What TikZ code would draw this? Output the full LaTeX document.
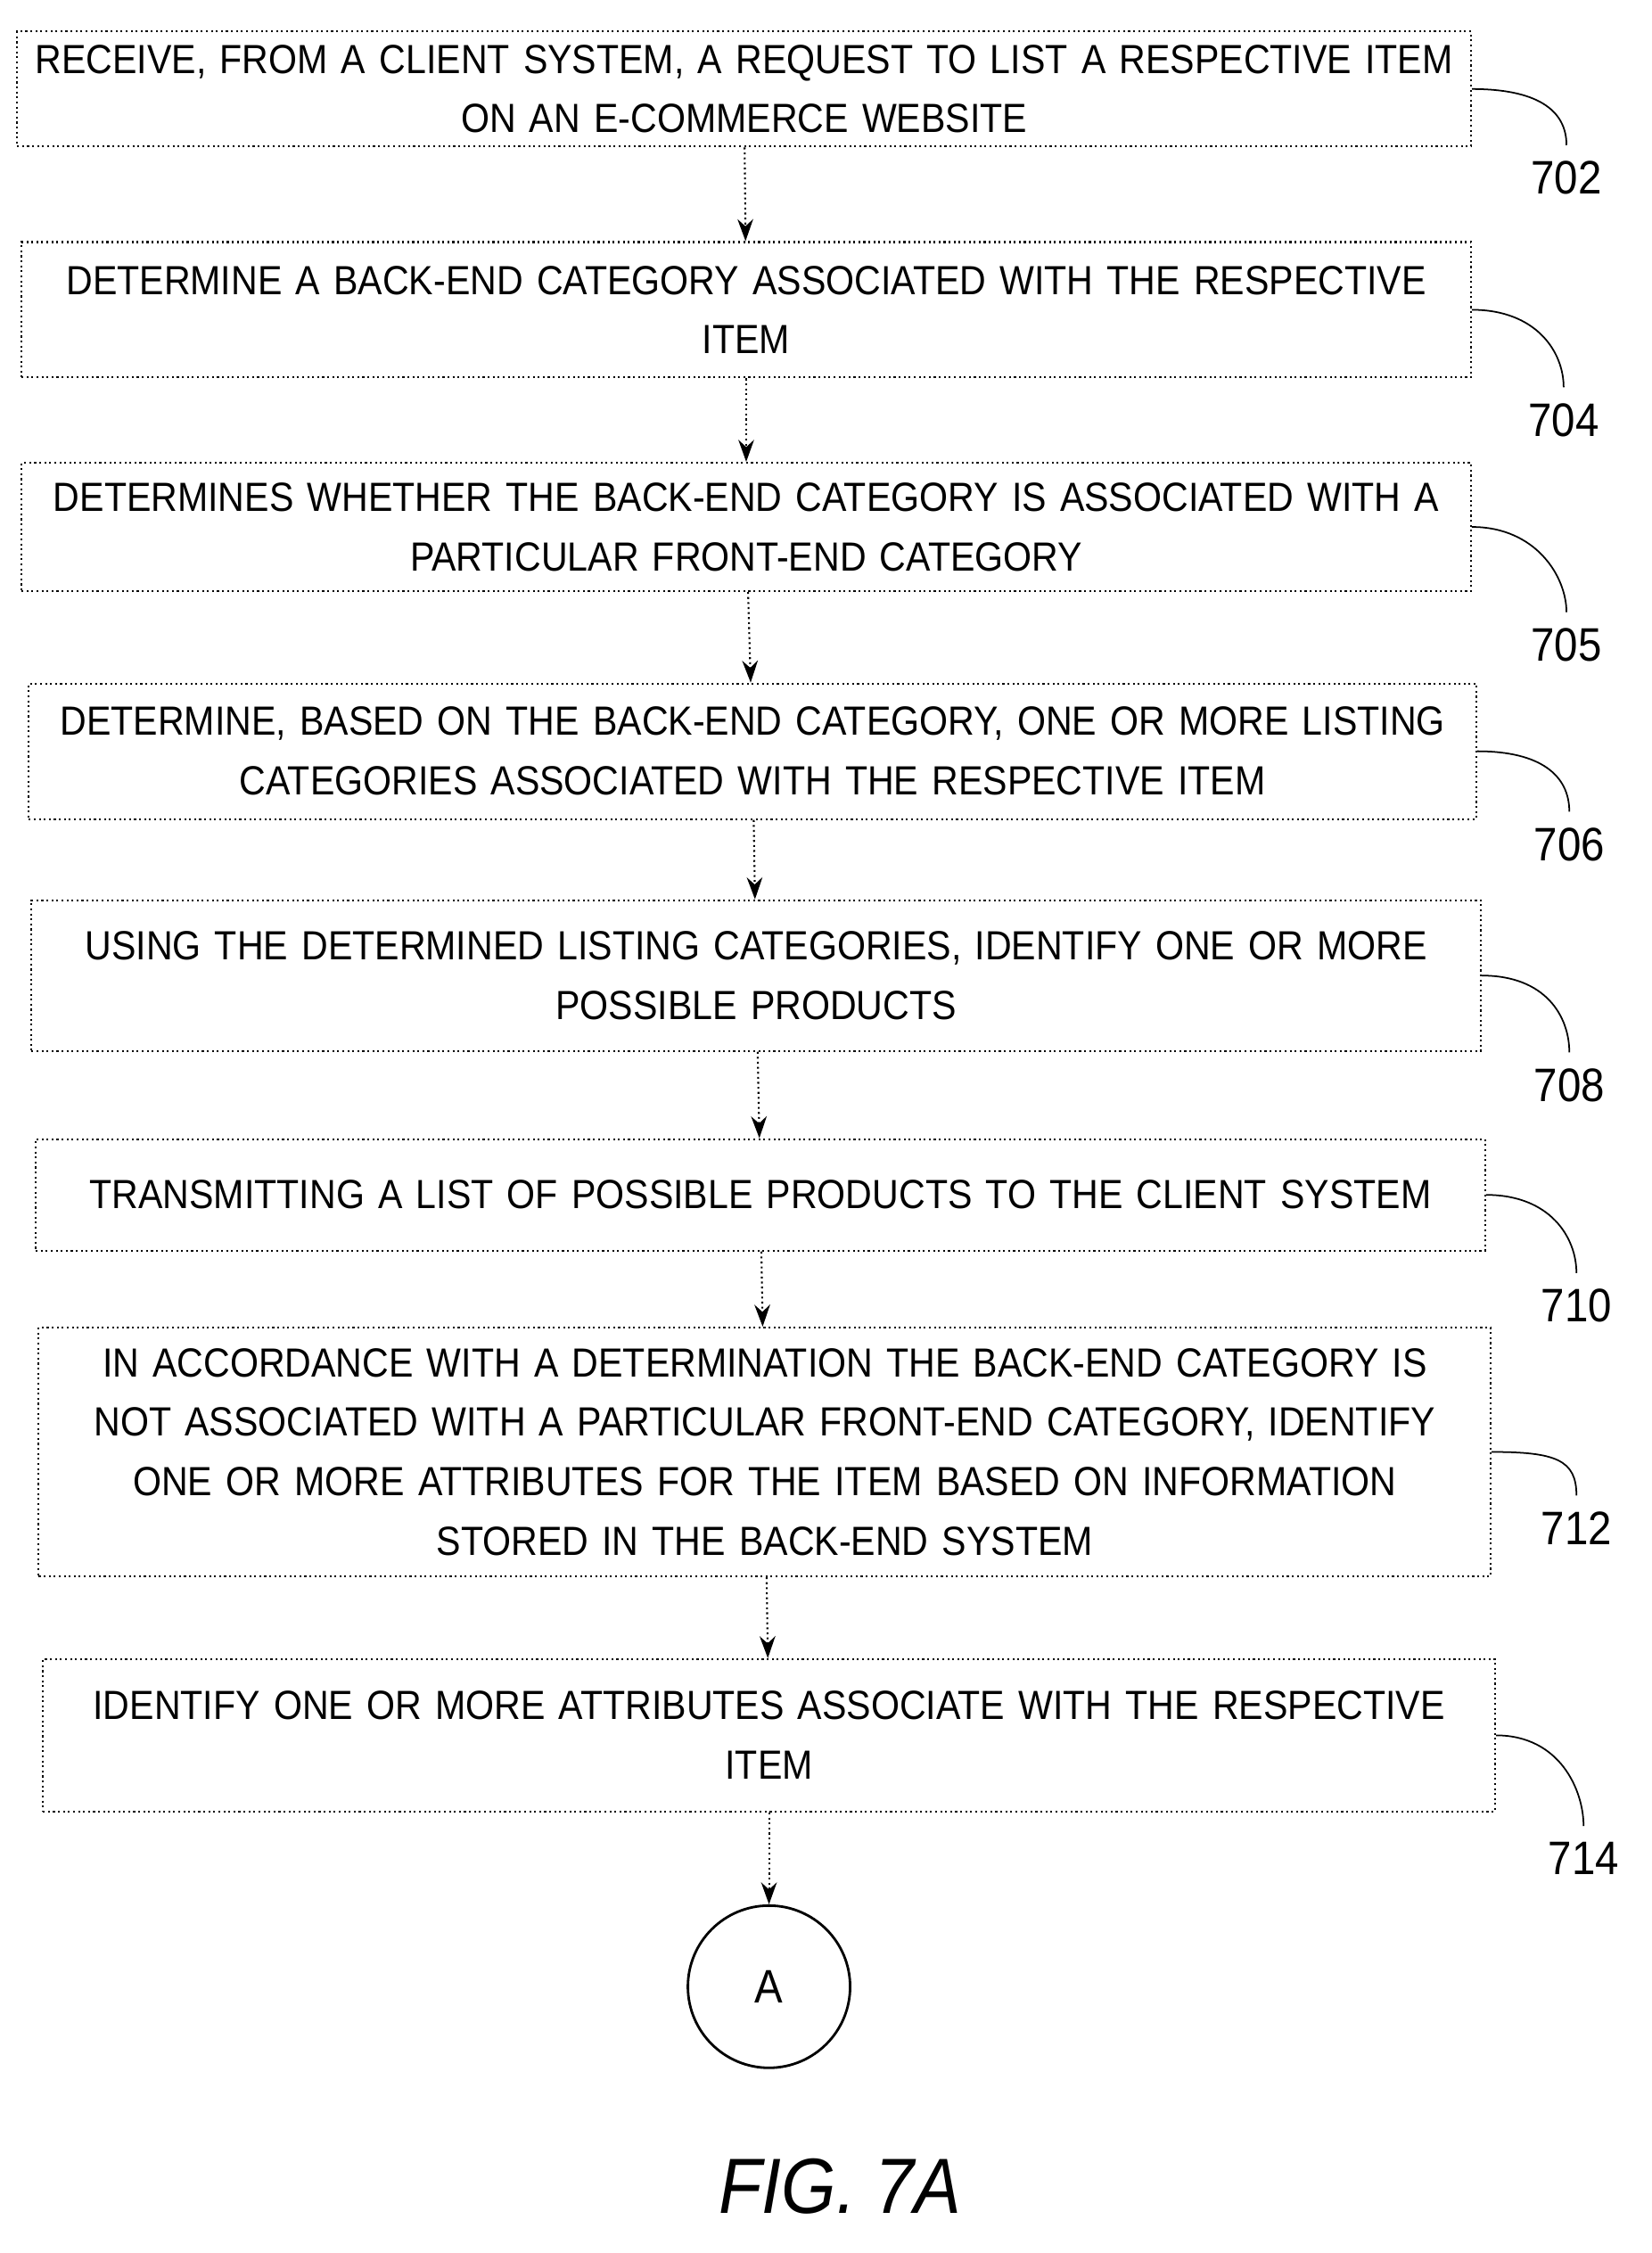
\documentclass[tikz,border=0pt]{standalone}
\usepackage{fontspec}
\setsansfont{Liberation Sans}[FakeStretch=0.9]
\usetikzlibrary{arrows.meta}
\begin{document}
\begin{tikzpicture}[x=0.01597cm,y=-0.01597cm,
    box/.style={draw,line width=0.6pt,densely dotted,align=center,text width=16.1cm,
        font=\sffamily\fontsize{13}{19}\selectfont,inner sep=0pt},
    arr/.style={-{Stealth[length=7pt,width=5pt]},line width=0.6pt,densely dotted},
    lbl/.style={font=\sffamily\fontsize{15}{15}\selectfont,inner sep=1pt},
    lead/.style={line width=0.5pt}]
    \useasboundingbox (0,0) rectangle (1160,1582);

    \node[box,minimum width=16.31cm,minimum height=1.29cm] (b702) at (522.5,62.5)
        {RECEIVE, FROM A CLIENT SYSTEM, A REQUEST TO LIST A RESPECTIVE ITEM\\ON AN E-COMMERCE WEBSITE};
    \node[box,minimum width=16.26cm,minimum height=1.52cm] (b704) at (524,217.5)
        {DETERMINE A BACK-END CATEGORY ASSOCIATED WITH THE RESPECTIVE\\ITEM};
    \node[box,minimum width=16.26cm,minimum height=1.44cm] (b705) at (524,370)
        {DETERMINES WHETHER THE BACK-END CATEGORY IS ASSOCIATED WITH A\\PARTICULAR FRONT-END CATEGORY};
    \node[box,minimum width=16.24cm,minimum height=1.52cm] (b706) at (528.5,527.5)
        {DETERMINE, BASED ON THE BACK-END CATEGORY, ONE OR MORE LISTING\\CATEGORIES ASSOCIATED WITH THE RESPECTIVE ITEM};
    \node[box,minimum width=16.26cm,minimum height=1.69cm] (b708) at (531,685)
        {USING THE DETERMINED LISTING CATEGORIES, IDENTIFY ONE OR MORE\\POSSIBLE PRODUCTS};
    \node[box,minimum width=16.26cm,minimum height=1.25cm] (b710) at (534,839)
        {TRANSMITTING A LIST OF POSSIBLE PRODUCTS TO THE CLIENT SYSTEM};
    \node[box,minimum width=16.29cm,minimum height=2.79cm] (b712) at (537,1019.5)
        {IN ACCORDANCE WITH A DETERMINATION THE BACK-END CATEGORY IS\\NOT ASSOCIATED WITH A PARTICULAR FRONT-END CATEGORY, IDENTIFY\\ONE OR MORE ATTRIBUTES FOR THE ITEM BASED ON INFORMATION\\STORED IN THE BACK-END SYSTEM};
    \node[box,minimum width=16.29cm,minimum height=1.71cm] (b714) at (540,1218.5)
        {IDENTIFY ONE OR MORE ATTRIBUTES ASSOCIATE WITH THE RESPECTIVE\\ITEM};
    \node[draw,circle,line width=0.8pt,minimum size=1.82cm,
        font=\sffamily\fontsize{15}{15}\selectfont] (conA) at (540,1395) {A};

    % step numbers
    \node[lbl] (l702) at (1100,125) {702};
    \node[lbl] (l704) at (1098,295) {704};
    \node[lbl] (l705) at (1100,453) {705};
    \node[lbl] (l706) at (1102,593) {706};
    \node[lbl] (l708) at (1102,762) {708};
    \node[lbl] (l710) at (1107,917) {710};
    \node[lbl] (l712) at (1107,1073) {712};
    \node[lbl] (l714) at (1112,1305) {714};

    \foreach \n in {702,704,705,706,708,710,712,714}
        \draw[lead] (b\n.east) .. controls +(45,0) and +(0,-25) .. ([yshift=4pt]l\n.north);

    \draw[arr] (b702) -- (b704);
    \draw[arr] (b704) -- (b705);
    \draw[arr] (b705) -- (b706);
    \draw[arr] (b706) -- (b708);
    \draw[arr] (b708) -- (b710);
    \draw[arr] (b710) -- (b712);
    \draw[arr] (b712) -- (b714);
    \draw[arr] (b714) -- (conA);

    \node[font=\sffamily\itshape\fontsize{25}{25}\selectfont] (fig) at (590,1535) {FIG. 7A};
\end{tikzpicture}
\end{document}
